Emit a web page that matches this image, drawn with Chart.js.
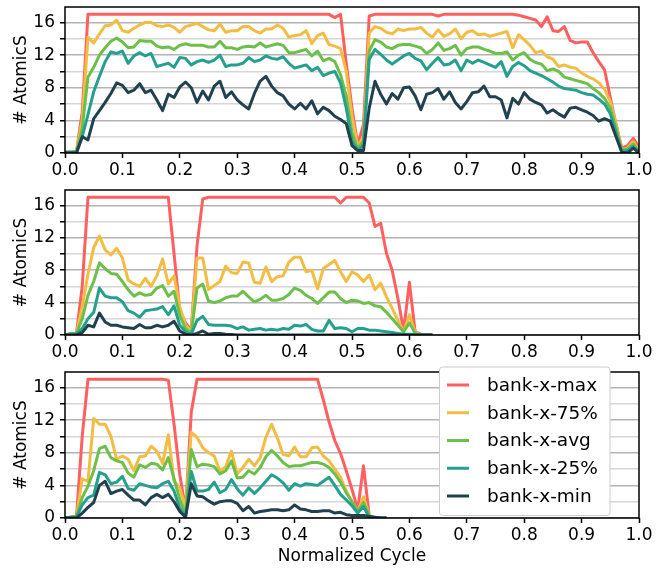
<!DOCTYPE html>
<html>
<head>
<meta charset="utf-8">
<script src="https://cdn.jsdelivr.net/npm/chart.js@4.4.1/dist/chart.umd.min.js"></script>
<style>
    body { margin: 0; background: #fff; }
    #contenedor { position: relative; width: 665px; height: 568px; }
    canvas { position: absolute; left: 0; }
</style>
</head>
<body>
<div id="contenedor">
    <canvas id="panel1" width="665" height="183" style="top:0px"></canvas>
    <canvas id="panel2" width="665" height="182" style="top:183px"></canvas>
    <canvas id="panel3" width="665" height="203" style="top:365px"></canvas>
</div>
<script>
const cycle = [
    0.00, 0.01, 0.02, 0.03, 0.04, 0.05, 0.06, 0.07, 0.08, 0.09,
    0.10, 0.11, 0.12, 0.13, 0.14, 0.15, 0.16, 0.17, 0.18, 0.19,
    0.20, 0.21, 0.22, 0.23, 0.24, 0.25, 0.26, 0.27, 0.28, 0.29,
    0.30, 0.31, 0.32, 0.33, 0.34, 0.35, 0.36, 0.37, 0.38, 0.39,
    0.40, 0.41, 0.42, 0.43, 0.44, 0.45, 0.46, 0.47, 0.48, 0.49,
    0.50, 0.51, 0.52, 0.53, 0.54, 0.55, 0.56, 0.57, 0.58, 0.59,
    0.60, 0.61, 0.62, 0.63, 0.64, 0.65, 0.66, 0.67, 0.68, 0.69,
    0.70, 0.71, 0.72, 0.73, 0.74, 0.75, 0.76, 0.77, 0.78, 0.79,
    0.80, 0.81, 0.82, 0.83, 0.84, 0.85, 0.86, 0.87, 0.88, 0.89,
    0.90, 0.91, 0.92, 0.93, 0.94, 0.95, 0.96, 0.97, 0.98, 0.99, 1.00
];

const seriesLabels = ['bank-x-max', 'bank-x-75%', 'bank-x-avg', 'bank-x-25%', 'bank-x-min'];
const xTicks = [0, 0.1, 0.2, 0.3, 0.4, 0.5, 0.6, 0.7, 0.8, 0.9, 1.0];
const yTicks = [0, 2, 4, 6, 8, 10, 12, 14, 16];
const yLabelTicks = [0, 4, 8, 12, 16];

// panel 1
const p1Max = [
    0.1, 0.1, 0.2, 5.0, 17, 17, 17, 17, 17, 17,
    17, 17, 17, 17, 17, 17, 17, 17, 17, 17,
    17, 17, 17, 17, 17, 17, 17, 17, 17, 17,
    17, 17, 17, 17, 17, 17, 17, 17, 17, 17,
    17, 17, 17, 17, 17, 17, 17, 16.6, 17, 11.0,
    5.5, 1.0, 3.5, 16.8, 17, 17, 17, 17, 17, 17,
    17, 17, 17, 17, 17, 16.8, 17, 17, 17, 17,
    17, 17, 17, 17, 17, 17, 17, 17, 17, 16.9,
    16.7, 16.5, 16.3, 15.5, 16.7, 15.0, 14.9, 15.5, 13.8, 13.5,
    13.6, 13.6, 12.3, 11.2, 10.2, 6.8, 3.5, 0.6, 0.9, 1.8, 0.7
];
const p1P75 = [
    0.1, 0.1, 0.2, 4.0, 14.2, 13.5, 14.6, 15.6, 15.7, 16.3,
    15.0, 14.8, 15.3, 15.7, 16.0, 16.0, 15.6, 15.5, 15.7, 15.4,
    14.8, 15.5, 15.7, 15.9, 15.5, 15.1, 15.0, 15.8, 14.8, 15.0,
    15.0, 15.5, 15.5, 15.0, 14.7, 15.2, 15.2, 15.7, 15.3, 14.2,
    14.4, 14.5, 15.0, 13.4, 14.4, 14.7, 13.3, 13.1, 12.8, 10.0,
    4.5, 0.8, 2.0, 14.7, 15.5, 15.3, 14.8, 14.6, 15.2, 15.0,
    15.2, 15.2, 15.4, 14.7, 14.2, 15.1, 14.3, 14.6, 15.2, 14.0,
    14.8, 15.0, 14.5, 14.6, 14.3, 14.5, 14.7, 14.9, 12.9, 14.5,
    13.9, 13.2, 12.3, 12.5, 11.8, 11.5, 10.6, 10.8, 10.5, 10.4,
    9.8, 9.4, 9.1, 8.6, 7.8, 6.3, 3.5, 0.4, 0.6, 1.4, 0.3
];
const p1Avg = [
    0.1, 0.1, 0.2, 3.0, 9.3, 10.5, 12.0, 12.9, 13.7, 14.1,
    13.6, 12.9, 13.0, 13.8, 13.7, 13.7, 13.1, 12.9, 13.0, 12.7,
    13.2, 13.4, 13.2, 13.2, 13.2, 13.0, 13.0, 13.7, 12.9, 12.9,
    12.7, 13.0, 13.1, 13.0, 13.5, 13.0, 13.2, 13.4, 13.2, 12.3,
    12.3, 12.5, 12.7, 11.9, 12.5, 11.3, 11.6, 11.2, 9.6, 7.0,
    2.5, 0.5, 1.5, 12.5, 13.9, 13.6, 13.0, 12.8, 13.2, 13.3,
    13.3, 13.1, 12.9, 12.2, 12.7, 13.5, 12.6, 12.8, 13.2, 12.0,
    12.8, 13.0, 13.0, 12.7, 12.5, 12.2, 12.2, 12.4, 11.4, 12.0,
    12.3, 11.5, 11.1, 10.9, 10.1, 10.3, 10.0, 9.3, 9.1, 8.9,
    8.7, 8.5, 7.9, 7.4, 6.7, 5.5, 3.0, 0.3, 0.5, 1.1, 0.2
];
const p1P25 = [
    0.1, 0.1, 0.1, 2.0, 4.7, 7.5, 9.4, 11.2, 12.4, 12.2,
    12.5, 11.0, 11.9, 12.3, 11.9, 12.2, 10.6, 10.8, 11.0, 10.5,
    11.7, 11.6, 10.8, 11.2, 11.4, 11.1, 11.4, 12.0, 10.6, 10.8,
    10.8, 11.0, 11.7, 11.2, 11.4, 11.9, 11.6, 11.5, 11.8, 11.0,
    10.4, 10.6, 10.8, 10.1, 10.5, 9.5, 9.8, 10.0, 8.6, 5.5,
    1.5, 0.3, 1.0, 11.5, 12.7, 12.1, 11.4, 10.9, 11.4, 11.9,
    12.2, 11.6, 11.3, 10.2, 11.0, 11.7, 10.8, 10.9, 11.4, 10.1,
    11.4, 11.0, 11.4, 11.1, 10.8, 10.5, 11.2, 9.4, 10.6, 11.1,
    10.7, 10.1, 9.8, 9.5, 9.1, 8.7, 8.2, 7.9, 7.8, 7.7,
    7.4, 7.2, 7.1, 6.6, 6.0, 4.8, 2.5, 0.2, 0.3, 0.8, 0.1
];
const p1Min = [
    0, 0, 0, 2.0, 1.6, 4.2, 5.2, 6.2, 7.3, 8.6,
    8.3, 7.4, 7.7, 8.5, 7.4, 7.7, 6.5, 5.2, 7.2, 6.8,
    8.1, 8.7, 8.0, 6.2, 7.6, 6.5, 8.2, 8.8, 6.8, 7.5,
    6.5, 5.9, 5.4, 7.3, 8.8, 9.4, 8.2, 7.4, 7.0, 6.0,
    5.4, 6.1, 5.4, 6.4, 4.8, 5.6, 5.2, 4.5, 4.1, 3.6,
    0.9, 0.3, 0.3, 5.5, 8.8, 7.2, 6.0, 7.3, 6.6, 8.0,
    8.1, 7.0, 5.3, 7.2, 7.4, 7.9, 6.6, 7.5, 6.2, 5.4,
    6.3, 7.4, 7.5, 8.2, 6.9, 6.9, 6.5, 4.3, 6.7, 6.0,
    7.4, 6.6, 6.2, 5.9, 4.9, 5.3, 4.8, 4.4, 5.5, 5.6,
    5.3, 5.0, 4.6, 3.9, 4.2, 3.9, 2.0, 0.1, 0, 0.6, 0
];

// panel 2
const p2Max = [
    0, 0.2, 0.2, 6.0, 17, 17, 17, 17, 17, 17,
    17, 17, 17, 17, 17, 17, 17, 17, 17, 10.0,
    3.0, 1.5, 0.6, 11.0, 16.8, 17, 17, 17, 17, 17,
    17, 17, 17, 17, 17, 17, 17, 17, 17, 17,
    17, 17, 17, 17, 17, 17, 17, 17, 16.3, 17,
    17, 17, 17, 16.3, 13.4, 13.8, 10.1, 8.0, 4.5, 0.5,
    6.5, 0.4, 0.1, 0, 0
];
const p2P75 = [
    0, 0.2, 0.2, 3.5, 7.5, 10.8, 12.2, 10.5, 9.9, 10.7,
    9.5, 6.8, 6.3, 6.0, 7.0, 6.0, 7.3, 9.4, 6.3, 7.3,
    3.5, 1.2, 0.5, 9.5, 9.5, 5.6, 6.1, 6.6, 8.5, 7.7,
    7.6, 9.0, 8.9, 6.5, 6.4, 8.4, 6.6, 7.2, 7.3, 9.0,
    9.6, 9.6, 7.8, 8.0, 5.7, 8.2, 8.7, 9.2, 7.8, 6.6,
    7.8, 7.4, 6.6, 7.4, 5.6, 6.4, 4.7, 3.3, 1.8, 0.4,
    2.5, 0.3, 0.05, 0, 0
];
const p2Avg = [
    0, 0.2, 0.2, 2.0, 4.9, 6.6, 8.9, 8.2, 7.6, 7.5,
    6.6, 5.6, 4.8, 5.2, 4.9, 5.0, 5.8, 6.1, 4.8, 5.4,
    2.4, 0.8, 0.2, 5.8, 6.3, 4.2, 4.0, 4.2, 4.6, 4.8,
    4.8, 5.4, 4.7, 4.1, 4.4, 4.9, 4.3, 4.3, 4.5, 5.0,
    5.8, 5.5, 4.9, 4.5, 3.9, 4.6, 5.3, 5.3, 4.5, 4.0,
    4.3, 4.2, 3.9, 4.0, 3.6, 3.5, 2.8, 2.0, 1.2, 0.4,
    1.5, 0.2, 0.05, 0, 0
];
const p2P25 = [
    0, 0.1, 0.1, 0.8, 2.0, 2.8, 5.8, 4.8, 4.6, 4.6,
    4.1, 3.0, 2.7, 2.2, 3.0, 3.1, 3.2, 3.5, 2.5, 3.6,
    1.2, 0.4, 0.1, 1.8, 2.3, 1.3, 1.2, 1.2, 1.2, 1.1,
    0.8, 1.0, 0.6, 0.7, 0.8, 0.6, 0.7, 0.6, 0.8, 0.7,
    1.2, 1.1, 1.3, 0.7, 0.5, 0.5, 1.8, 0.8, 0.9, 0.8,
    0.4, 0.8, 0.8, 0.6, 0.6, 0.5, 0.4, 0.3, 0.2, 0.1,
    0.1, 0.05, 0, 0, 0
];
const p2Min = [
    0, 0, 0, 0.3, 1.2, 1.0, 2.7, 1.6, 1.2, 1.2,
    1.0, 0.9, 0.8, 1.3, 0.9, 0.9, 1.2, 1.0, 1.2, 1.7,
    0.5, 0.1, 0, 0.2, 0.5, 0.1, 0.2, 0.2, 0.1, 0.05,
    0, 0, 0, 0, 0, 0, 0, 0, 0, 0,
    0, 0, 0, 0, 0, 0, 0, 0, 0, 0,
    0, 0, 0, 0, 0, 0, 0, 0, 0, 0,
    0, 0, 0, 0, 0
];

// panel 3
const p3Max = [
    0, 0.1, 0.2, 10.0, 17, 17, 17, 17, 17, 17,
    17, 17, 17, 17, 17, 17, 17, 17, 16.9, 11.5,
    5.3, 1.0, 13.0, 17, 17, 17, 17, 17, 17, 17,
    17, 17, 17, 17, 17, 17, 17, 17, 17, 17,
    17, 17, 17, 17, 17, 14.5, 11.8, 9.5, 7.9, 5.8,
    3.5, 1.0, 6.4, 0.3, 0, 0, 0
];
const p3P75 = [
    0, 0.1, 0.2, 4.8, 4.5, 12.2, 11.5, 11.5, 10.0, 7.2,
    7.6, 7.2, 5.8, 7.5, 7.6, 8.8, 8.2, 6.7, 10.2, 4.5,
    3.7, 1.2, 10.5, 9.9, 8.6, 8.0, 7.6, 5.7, 6.3, 8.2,
    5.4, 6.2, 7.2, 6.4, 7.4, 9.9, 11.5, 9.8, 7.8, 7.6,
    8.7, 7.5, 7.5, 8.6, 8.7, 7.6, 7.0, 6.0, 5.0, 3.3,
    2.0, 0.8, 2.6, 0.3, 0, 0, 0
];
const p3Avg = [
    0, 0.1, 0.2, 2.5, 3.9, 5.8, 8.5, 8.8, 7.4, 7.0,
    6.8, 5.5, 5.0, 6.5, 6.2, 6.7, 6.6, 5.9, 7.4, 4.8,
    2.3, 0.4, 8.4, 6.3, 6.6, 6.5, 6.3, 5.4, 5.8, 7.0,
    4.9, 5.0, 5.8, 5.4, 6.2, 7.5, 8.3, 7.6, 6.8, 6.3,
    6.4, 6.4, 6.6, 6.8, 6.8, 6.6, 6.2, 5.4, 4.4, 3.1,
    2.0, 0.8, 1.9, 0.3, 0, 0, 0
];
const p3P25 = [
    0, 0.1, 0.1, 1.6, 2.5, 2.8, 5.6, 5.3, 4.2, 4.4,
    5.1, 3.6, 3.4, 4.2, 4.0, 3.8, 3.7, 4.2, 4.5, 3.3,
    1.2, 0.2, 5.7, 3.3, 3.3, 3.5, 4.4, 3.1, 3.5, 4.7,
    3.6, 2.8, 3.7, 3.0, 3.7, 4.5, 5.3, 4.9, 4.3, 3.4,
    4.2, 3.9, 4.2, 4.1, 4.0, 4.5, 5.0, 4.0, 2.9, 2.2,
    1.5, 0.6, 1.4, 0.1, 0, 0, 0
];
const p3Min = [
    0, 0, 0, 0.6, 1.3, 1.9, 4.0, 4.5, 3.0, 3.3,
    3.5, 2.8, 2.2, 2.2, 1.6, 2.5, 2.9, 2.5, 2.9, 2.0,
    0.8, 0.1, 4.2, 2.7, 2.6, 2.1, 1.7, 2.0, 2.1, 2.1,
    1.8, 0.9, 1.4, 0.6, 0.8, 0.9, 1.0, 1.0, 0.9, 1.0,
    1.6, 1.1, 1.0, 0.8, 0.8, 0.9, 0.9, 0.6, 0.7, 0.4,
    0.3, 0.3, 0.3, 0.2, 0.1, 0, 0
];

const colores = ['#ff5f5f', '#f2bd42', '#6cc04a', '#25a08e', '#21414f'];
const fuente = 'DejaVu Sans';

Chart.defaults.font.family = fuente;
Chart.defaults.color = '#000';

const marco = {
    id: 'marco',
    afterDraw(chart) {
        const { ctx, chartArea: a } = chart;
        ctx.save();
        ctx.strokeStyle = '#000';
        ctx.lineWidth = 1.5;
        ctx.strokeRect(a.left, a.top, a.right - a.left, a.bottom - a.top);
        ctx.restore();
    }
};

// leyenda dibujada a mano dentro del panel de abajo
const leyenda = {
    id: 'leyenda',
    afterDraw(chart) {
        const ctx = chart.ctx;
        const x0 = 439.5, y0 = 2, w = 170.5, h = 148.5;
        ctx.save();
        ctx.fillStyle = '#fff';
        ctx.strokeStyle = '#cccccc';
        ctx.lineWidth = 1;
        ctx.beginPath();
        ctx.roundRect(x0, y0, w, h, 3);
        ctx.fill();
        ctx.stroke();
        ctx.font = '18.5px "' + fuente + '"';
        ctx.textBaseline = 'middle';
        ctx.lineWidth = 3;
        chart.data.datasets.forEach((ds, k) => {
            const y = 20 + k * 27.75;
            ctx.strokeStyle = ds.borderColor;
            ctx.beginPath();
            ctx.moveTo(447, y);
            ctx.lineTo(469, y);
            ctx.stroke();
            ctx.fillStyle = '#000';
            ctx.fillText(ds.label, 487, y + 1);
        });
        ctx.restore();
    }
};

function hacerPanel(id, series, alturaEje, tituloX, conLeyenda) {
    const datasets = series.map((ys, k) => ({
        label: seriesLabels[k],
        data: ys.map((y, i) => ({ x: cycle[i], y: y })),
        borderColor: colores[k],
        backgroundColor: colores[k],
        borderWidth: 3,
        pointRadius: 0,
        tension: 0,
        borderJoinStyle: 'round',
        order: 5 - k
    }));

    const plugins = [marco];
    if (conLeyenda) plugins.push(leyenda);

    new Chart(document.getElementById(id), {
        type: 'line',
        data: { datasets: datasets },
        options: {
            responsive: false,
            animation: false,
            devicePixelRatio: 1,
            layout: { padding: { top: 7, left: 0, right: 26, bottom: 0 } },
            plugins: { legend: { display: false }, tooltip: { enabled: false } },
            scales: {
                x: {
                    type: 'linear',
                    min: 0,
                    max: 1,
                    afterBuildTicks: s => { s.ticks = xTicks.map(v => ({ value: v })); },
                    afterFit: s => { s.height = alturaEje; s.paddingLeft = 0; s.paddingRight = 0; },
                    grid: { drawOnChartArea: false, tickLength: 5, tickColor: '#000', tickWidth: 1.5 },
                    border: { display: false },
                    ticks: {
                        autoSkip: false,
                        maxRotation: 0,
                        padding: 2,
                        font: { size: 17 },
                        callback: v => v.toFixed(1)
                    },
                    title: {
                        display: !!tituloX,
                        text: tituloX,
                        font: { size: 17 },
                        padding: { top: 0, bottom: 1 }
                    }
                },
                y: {
                    min: 0,
                    max: 17.9,
                    afterBuildTicks: s => { s.ticks = yTicks.map(v => ({ value: v })); },
                    afterFit: s => { s.width = 65; s.paddingTop = 0; s.paddingBottom = 0; },
                    grid: {
                        color: c => (yLabelTicks.includes(c.tick.value) ? '#b3b3b3' : '#d6d6d6'),
                        lineWidth: 1.5,
                        tickLength: 5,
                        tickColor: '#000',
                        tickWidth: 1.5
                    },
                    border: { display: false },
                    ticks: {
                        autoSkip: false,
                        padding: 5,
                        font: { size: 17 },
                        callback: v => (yLabelTicks.includes(v) ? String(v) : '')
                    },
                    title: {
                        display: true,
                        text: '# AtomicS',
                        font: { size: 17 },
                        padding: { top: 11, bottom: 0 }
                    }
                }
            }
        },
        plugins: plugins
    });
}

hacerPanel('panel1', [p1Max, p1P75, p1Avg, p1P25, p1Min], 30, '', false);
hacerPanel('panel2', [p2Max, p2P75, p2Avg, p2P25, p2Min], 30, '', false);
hacerPanel('panel3', [p3Max, p3P75, p3Avg, p3P25, p3Min], 50, 'Normalized Cycle', true);
</script>
</body>
</html>
